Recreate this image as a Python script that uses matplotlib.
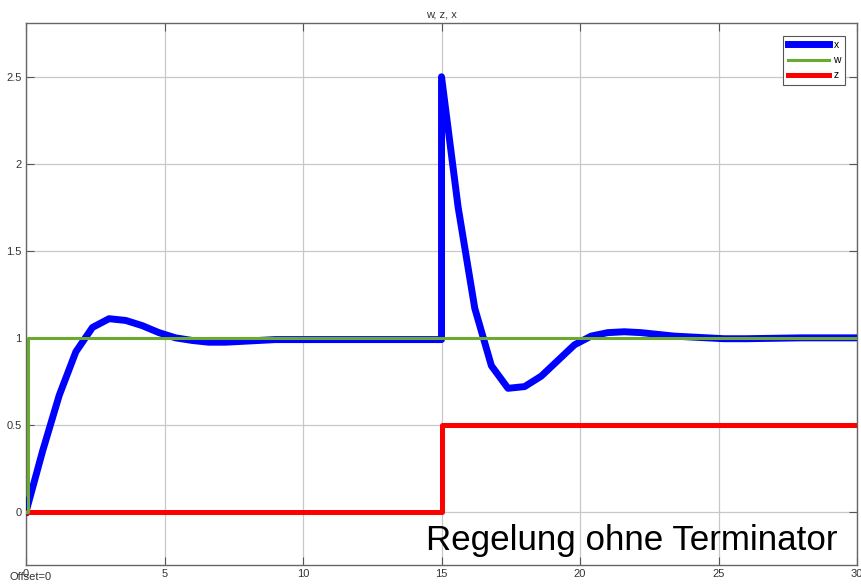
import matplotlib
matplotlib.use('Agg')
from matplotlib import pyplot as plt

plt.rcParams['font.family'] = ['Liberation Sans', 'DejaVu Sans']

# controlled variable x (sampled simulation output)
t_x = [0, 0.6, 1.2, 1.8, 2.4, 3.0, 3.6, 4.2, 4.8, 5.4, 6.0, 6.6, 7.2, 7.8, 8.4, 9.0,
       10.0, 12.0, 14.0, 15.0, 15.0, 15.6, 16.2, 16.8, 17.4, 18.0, 18.6, 19.2, 19.8,
       20.4, 21.0, 21.6, 22.2, 22.8, 23.4, 24.0, 24.6, 25.2, 26.0, 28.0, 30.0]
x_vals = [0, 0.35, 0.67, 0.92, 1.06, 1.11, 1.10, 1.07, 1.03, 1.00, 0.985, 0.975, 0.975,
          0.98, 0.985, 0.99, 0.99, 0.99, 0.99, 0.99, 2.5, 1.75, 1.17, 0.84, 0.71, 0.72,
          0.78, 0.87, 0.96, 1.01, 1.03, 1.035, 1.03, 1.02, 1.01, 1.005, 1.0, 0.995,
          0.995, 1.0, 1.0]

# setpoint w
t_w = [0, 0.08, 0.08, 30]
w_vals = [0, 0, 1, 1]

# disturbance z
t_z = [0, 15, 15, 30]
z_vals = [0, 0, 0.5, 0.5]

fig = plt.figure(figsize=(8.61, 5.85), dpi=100)
ax = fig.add_axes([0.0302, 0.0342, 0.9652, 0.9268])

ax.plot(t_x, x_vals, color='#0000ff', lw=5.0, label='x', solid_joinstyle='round', zorder=3)
ax.plot(t_w, w_vals, color='#6aab2e', lw=2.2, label='w', zorder=4)
ax.plot(t_z, z_vals, color='#ff0000', lw=3.6, label='z', zorder=3)

ax.set_xlim(0, 30)
ax.set_ylim(-0.305, 2.81)
ax.set_xticks([0, 5, 10, 15, 20, 25, 30])
ax.set_yticks([0, 0.5, 1, 1.5, 2, 2.5])
ax.set_yticklabels(['0', '0.5', '1', '1.5', '2', '2.5'])
ax.grid(True, color='#c8c8c8', lw=0.9)
ax.tick_params(direction='in', top=True, right=True, length=6, labelsize=8,
               color='#555555', labelcolor='#333333', pad=3)
for sp in ax.spines.values():
    sp.set_color('#666666')
    sp.set_linewidth(1.0)

ax.set_title('w, z, x', fontsize=8, color='#333333', pad=4)

leg = ax.legend(loc='upper right', bbox_to_anchor=(0.9856, 0.976), borderaxespad=0,
                fontsize=7.5, handlelength=4.0, handletextpad=0.4, borderpad=0.4,
                labelspacing=0.5, fancybox=False, edgecolor='#555555', framealpha=1)
leg.get_frame().set_linewidth(0.8)

ax.text(0.977, 0.015, 'Regelung ohne Terminator', transform=ax.transAxes,
        ha='right', va='bottom', fontsize=25.2, color='black', zorder=5)

fig.text(0.011, 0.008, 'Offset=0', fontsize=8, color='#333333')

fig.savefig('out.png', dpi=100)
